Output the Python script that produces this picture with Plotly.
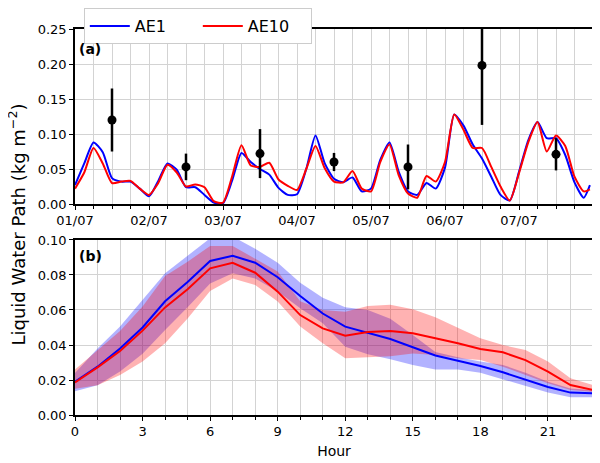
import pandas as pd
import plotly.graph_objects as go
from plotly.subplots import make_subplots

# (a) serie temporal horaria (cada 3 h) de LWP, 01/07 - 07/07
horas = list(range(0, 166, 3)) + [167]
lwp_ae1 = [0.027, 0.058, 0.088, 0.074, 0.037, 0.032, 0.032, 0.022, 0.011, 0.033,
           0.058, 0.049, 0.024, 0.024, 0.013, 0.002, 0.001, 0.034, 0.073, 0.060,
           0.050, 0.042, 0.023, 0.013, 0.014, 0.050, 0.098, 0.058, 0.036, 0.031,
           0.038, 0.018, 0.022, 0.063, 0.088, 0.046, 0.018, 0.013, 0.030, 0.022,
           0.052, 0.128, 0.112, 0.085, 0.065, 0.039, 0.013, 0.005, 0.046, 0.091,
           0.117, 0.094, 0.094, 0.070, 0.031, 0.009, 0.027]
lwp_ae10 = [0.022, 0.045, 0.080, 0.058, 0.030, 0.032, 0.033, 0.022, 0.013, 0.030,
            0.056, 0.045, 0.025, 0.028, 0.024, 0.004, 0.002, 0.040, 0.084, 0.055,
            0.053, 0.059, 0.035, 0.026, 0.020, 0.050, 0.083, 0.051, 0.032, 0.031,
            0.047, 0.022, 0.018, 0.060, 0.085, 0.041, 0.015, 0.009, 0.040, 0.032,
            0.060, 0.128, 0.106, 0.080, 0.080, 0.053, 0.025, 0.005, 0.044, 0.088,
            0.117, 0.075, 0.098, 0.083, 0.039, 0.018, 0.021]

# observaciones diarias (mediodía) con su desviación
horas_obs = [12, 36, 60, 84, 108, 132, 156]
lwp_obs = [0.120, 0.053, 0.072, 0.060, 0.053, 0.198, 0.071]
err_obs = [0.045, 0.019, 0.035, 0.013, 0.032, 0.085, 0.023]

# (b) ciclo diurno medio
hora = list(range(24))
ciclo_ae1 = [0.019, 0.0276, 0.038, 0.050, 0.065, 0.076, 0.088, 0.091, 0.087, 0.0787,
             0.068, 0.058, 0.0505, 0.047, 0.0434, 0.0387, 0.034, 0.031, 0.028, 0.0244,
             0.020, 0.016, 0.0128, 0.0124]
ciclo_ae10 = [0.0186, 0.0272, 0.0366, 0.0482, 0.0615, 0.0718, 0.0838, 0.087, 0.0813, 0.0705,
              0.0571, 0.0495, 0.0453, 0.0474, 0.048, 0.0467, 0.0438, 0.041, 0.0377, 0.0358,
              0.0314, 0.0248, 0.0171, 0.0143]
sup_ae1 = [0.024, 0.038, 0.0505, 0.066, 0.081, 0.091, 0.101, 0.102, 0.095, 0.087,
           0.0755, 0.067, 0.0615, 0.060, 0.055, 0.0457, 0.036, 0.033, 0.0305, 0.0286,
           0.0242, 0.019, 0.0152, 0.0143]
inf_ae1 = [0.0135, 0.017, 0.0248, 0.035, 0.0486, 0.0615, 0.0752, 0.081, 0.078, 0.0705,
           0.061, 0.0524, 0.039, 0.0347, 0.0318, 0.0286, 0.026, 0.026, 0.0242, 0.0204,
           0.0162, 0.0128, 0.0101, 0.0101]
sup_ae10 = [0.026, 0.037, 0.048, 0.062, 0.0794, 0.0876, 0.0966, 0.0966, 0.0895, 0.082,
            0.065, 0.060, 0.059, 0.0623, 0.063, 0.0604, 0.0558, 0.050, 0.0438, 0.040,
            0.0371, 0.0305, 0.021, 0.0171]
inf_ae10 = [0.015, 0.017, 0.0229, 0.0305, 0.041, 0.0552, 0.0709, 0.078, 0.0743, 0.0648,
            0.0505, 0.041, 0.0324, 0.033, 0.0335, 0.0352, 0.0343, 0.0324, 0.0314, 0.0276,
            0.0229, 0.0181, 0.0143, 0.0133]

inicio = pd.Timestamp("2017-07-01")
tiempo = inicio + pd.to_timedelta(horas, unit="h")
tiempo_obs = inicio + pd.to_timedelta(horas_obs, unit="h")

AZUL = "#0000ff"
ROJO = "#ff0000"
FUENTE = "DejaVu Sans"

fig = make_subplots(rows=2, cols=1)

# panel (a)
fig.add_trace(go.Scatter(x=tiempo, y=lwp_ae1, mode="lines", name="AE1",
                         line=dict(color=AZUL, width=2, shape="spline", smoothing=0.6)),
              row=1, col=1)
fig.add_trace(go.Scatter(x=tiempo, y=lwp_ae10, mode="lines", name="AE10",
                         line=dict(color=ROJO, width=2, shape="spline", smoothing=0.6)),
              row=1, col=1)
fig.add_trace(go.Scatter(x=tiempo_obs, y=lwp_obs, mode="markers", showlegend=False,
                         marker=dict(color="black", size=9),
                         error_y=dict(type="data", array=err_obs, color="black",
                                      thickness=2.5, width=0)),
              row=1, col=1)

# panel (b): bandas primero, luego las líneas
for sup, inf, color in [(sup_ae1, inf_ae1, "rgba(0,0,255,0.3)"),
                        (sup_ae10, inf_ae10, "rgba(255,0,0,0.3)")]:
    fig.add_trace(go.Scatter(x=hora, y=inf, mode="lines", line=dict(width=0),
                             showlegend=False, hoverinfo="skip"), row=2, col=1)
    fig.add_trace(go.Scatter(x=hora, y=sup, mode="lines", line=dict(width=0),
                             fill="tonexty", fillcolor=color,
                             showlegend=False, hoverinfo="skip"), row=2, col=1)

fig.add_trace(go.Scatter(x=hora, y=ciclo_ae1, mode="lines", showlegend=False,
                         line=dict(color=AZUL, width=2)), row=2, col=1)
fig.add_trace(go.Scatter(x=hora, y=ciclo_ae10, mode="lines", showlegend=False,
                         line=dict(color=ROJO, width=2)), row=2, col=1)

ejes = dict(showline=True, linecolor="black", linewidth=1.5, mirror=True,
            ticks="outside", ticklen=4, tickcolor="black",
            gridcolor="#d3d3d3", gridwidth=1, zeroline=False,
            tickfont=dict(size=13, color="black"))

fig.update_xaxes(**ejes)
fig.update_yaxes(**ejes)

fig.update_xaxes(row=1, col=1, type="date", range=[inicio, inicio + pd.Timedelta(days=7)],
                 dtick=86400000, tickformat="%d/%m",
                 minor=dict(dtick=6 * 3600000, showgrid=True, gridcolor="#d3d3d3",
                            ticks="outside", ticklen=3, tickcolor="black"))
fig.update_yaxes(row=1, col=1, range=[0, 0.25], dtick=0.05, tickformat=".2f",
                 domain=[0.5184, 0.9484])

fig.update_xaxes(row=2, col=1, range=[0, 23], dtick=3,
                 minor=dict(dtick=1, showgrid=True, gridcolor="#d3d3d3",
                            ticks="outside", ticklen=3, tickcolor="black"),
                 title=dict(text="Hour", font=dict(size=14, color="black"), standoff=8))
fig.update_yaxes(row=2, col=1, range=[0, 0.10], dtick=0.02, tickformat=".2f",
                 domain=[0, 0.43])

# la página añade 8 px de margen al cuerpo: la figura se hace 8 px más pequeña
fig.update_layout(
    width=592, height=455,
    margin=dict(l=67, r=7, t=0, b=48, autoexpand=False),
    paper_bgcolor="white", plot_bgcolor="white",
    font=dict(family=FUENTE, color="black"),
    legend=dict(orientation="h", x=0.017, y=1.0, xanchor="left", yanchor="top",
                traceorder="normal",
                bgcolor="white", bordercolor="#cccccc", borderwidth=1,
                font=dict(size=16), itemwidth=40, entrywidth=58),
    annotations=[
        dict(text="<b>(a)</b>", xref="x domain", yref="y domain", x=0.003, y=0.885,
             xanchor="left", yanchor="middle", showarrow=False, font=dict(size=14)),
        dict(text="<b>(b)</b>", xref="x2 domain", yref="y2 domain", x=0.003, y=0.91,
             xanchor="left", yanchor="middle", showarrow=False, font=dict(size=14)),
        dict(text="Liquid Water Path (kg m<sup>−2</sup>)", xref="paper", yref="paper",
             x=-0.111, y=0.4668, xanchor="center", yanchor="middle", textangle=-90,
             showarrow=False, font=dict(size=18)),
    ],
)

fig.write_html("out.html")
